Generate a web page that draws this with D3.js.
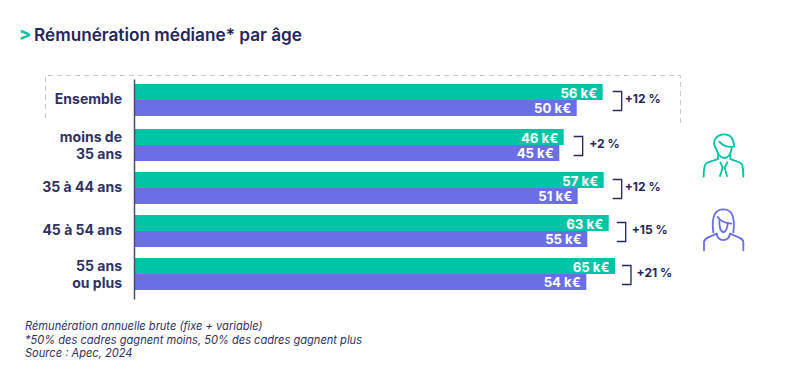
<!DOCTYPE html>
<html lang="fr">
<head>
<meta charset="utf-8">
<title>Rémunération médiane par âge</title>
<script src="https://cdn.jsdelivr.net/npm/d3@7"></script>
<style>
  html, body { margin: 0; padding: 0; background: #fff; }
  svg { display: block; font-family: Inter, sans-serif; }
</style>
</head>
<body>
<div id="chart"></div>
<script>
// Data
const categories = [['Ensemble'], ['moins de', '35 ans'], ['35 à 44 ans'], ['45 à 54 ans'], ['55 ans', 'ou plus']];
const men = [56, 46, 57, 63, 65];
const women = [50, 45, 51, 55, 54];
const gaps = ['+12 %', '+2 %', '+12 %', '+15 %', '+21 %'];
const footnotes = [
  'Rémunération annuelle brute (fixe + variable)',
  '*50% des cadres gagnent moins, 50% des cadres gagnent plus',
  'Source : Apec, 2024'
];

const width = 801;
const height = 381;
const green = '#00c4a6';
const purple = '#6b6fe6';
const navy = '#24265c';

const svg = d3.select('#chart').append('svg')
  .attr('width', width)
  .attr('height', height);

// The bars in the source are not proportional to their labels, so the scale is piecewise
const x = d3.scaleLinear()
  .domain([0, 45, 46, 50, 51, 54, 55, 56, 57, 63, 65])
  .range([135, 559.3, 563.7, 576.7, 577.7, 586.3, 587.3, 602.7, 603.7, 608.7, 615]);

// Ensemble sits a little higher than the regular row step
const y = d3.scaleLinear()
  .domain([0, 1, 4])
  .range([84, 129, 258]);

const barH = 16;
const bracketGap = [10, 10, 9, 8, 7];
const gapLabelOffset = [12, 15.5, 12, 15, 14.5];

// Title
svg.append('text').attr('x', 19).attr('y', 39.5)
  .attr('fill', green).attr('font-size', 18).attr('font-weight', 800).text('>');
svg.append('text').attr('x', 34).attr('y', 40.5)
  .attr('fill', navy).attr('font-size', 17.2).attr('font-weight', 600)
  .text('Rémunération médiane* par âge');

// Dashed frame around the Ensemble row
svg.append('path')
  .attr('d', 'M45.5 118V75.5H680.5V123')
  .attr('fill', 'none')
  .attr('stroke', '#c9c9d2')
  .attr('stroke-dasharray', '5 4');

// Rows
const rows = svg.selectAll('g.row')
  .data(categories)
  .enter().append('g')
  .attr('class', 'row')
  .attr('transform', (d, i) => `translate(0,${y(i)})`);

rows.append('rect')
  .attr('x', x(0)).attr('y', 0)
  .attr('width', (d, i) => x(men[i]) - x(0))
  .attr('height', barH)
  .attr('fill', green);

rows.append('rect')
  .attr('x', x(0)).attr('y', barH)
  .attr('width', (d, i) => x(women[i]) - x(0))
  .attr('height', barH)
  .attr('fill', purple);

// Value labels
rows.append('text')
  .attr('x', (d, i) => x(men[i]) - 5.5).attr('y', 13.5)
  .attr('text-anchor', 'end').attr('fill', '#fff')
  .attr('font-size', 13.2).attr('font-weight', 700)
  .text((d, i) => `${men[i]} k€`);

rows.append('text')
  .attr('x', (d, i) => x(women[i]) - 5.5).attr('y', 29)
  .attr('text-anchor', 'end').attr('fill', '#fff')
  .attr('font-size', 13.2).attr('font-weight', 700)
  .text((d, i) => `${women[i]} k€`);

// Category labels
rows.append('text')
  .attr('text-anchor', 'end')
  .attr('fill', '#2f3163')
  .attr('font-size', 14)
  .attr('font-weight', 700)
  .each(function (d) {
    const label = d3.select(this);
    const mid = d.length > 1 ? 21.4 : 20.3;
    d.forEach((line, j) => {
      label.append('tspan')
        .attr('x', 122)
        .attr('y', mid + (j - (d.length - 1) / 2) * 16.8)
        .text(line);
    });
  });

// Brackets and gaps
rows.append('path')
  .attr('d', (d, i) => {
    const left = x(men[i]) + bracketGap[i];
    return `M${left} 7.5H${left + 9}V26.5H${left}`;
  })
  .attr('fill', 'none')
  .attr('stroke', navy)
  .attr('stroke-width', 1.3);

rows.append('text')
  .attr('x', (d, i) => x(men[i]) + bracketGap[i] + gapLabelOffset[i])
  .attr('y', 19)
  .attr('fill', navy)
  .attr('font-size', 12)
  .attr('font-weight', 700)
  .text((d, i) => gaps[i]);

// Axis line
svg.append('g')
  .attr('transform', `translate(${x(0) - 1},0)`)
  .call(d3.axisLeft(d3.scaleLinear().domain([0, 1]).range([79, 299])).tickValues([]).tickSizeOuter(0))
  .select('.domain')
  .attr('stroke', '#4a4b78')
  .attr('stroke-width', 1.5);

// Footnotes
svg.selectAll('text.note')
  .data(footnotes)
  .enter().append('text')
  .attr('class', 'note')
  .attr('x', 25)
  .attr('y', (d, i) => 330 + i * 13.6)
  .attr('fill', '#2f3163')
  .attr('font-size', 11.1)
  .attr('font-style', 'italic')
  .text(d => d);

// Pictograms, drawn at three times their size then scaled down
const icons = svg.append('g')
  .attr('transform', 'translate(690,125) scale(0.3333)')
  .attr('fill', 'none')
  .attr('stroke-width', 5.5)
  .attr('stroke-linecap', 'round')
  .attr('stroke-linejoin', 'round');

const manPaths = [
  'M79 72C72 62 70 52 75 43C81 32 93 28 104 28C118 28 130 38 132 62',
  'M88 50C98 62 114 68 133 65',
  'M79 72C82 86 92 99 103 99C113 99 122 88 125 70',
  'M84 90V102C70 108 55 110 48 116C42 122 41 135 41 155',
  'M121 88V102C134 108 148 110 154 116C159 122 160 135 160 155',
  'M91 112L98 128L90 153',
  'M112 112L104 128L111 153'
];
const womanPaths = [
  'M70 322C67 300 67 282 74 268C84 248 116 248 126 268C133 282 133 300 130 322',
  'M83 276C92 290 106 294 124 296',
  'M88 288C88 305 92 320 100 322C108 320 112 310 113 296',
  'M80 326C84 352 116 352 120 326',
  'M42 376V352C42 338 60 336 80 326',
  'M160 376V352C160 338 140 336 120 326'
];

icons.selectAll('path.man')
  .data(manPaths)
  .enter().append('path')
  .attr('class', 'man')
  .attr('stroke', green)
  .attr('d', d => d);

icons.selectAll('path.woman')
  .data(womanPaths)
  .enter().append('path')
  .attr('class', 'woman')
  .attr('stroke', purple)
  .attr('d', d => d);
</script>
</body>
</html>
